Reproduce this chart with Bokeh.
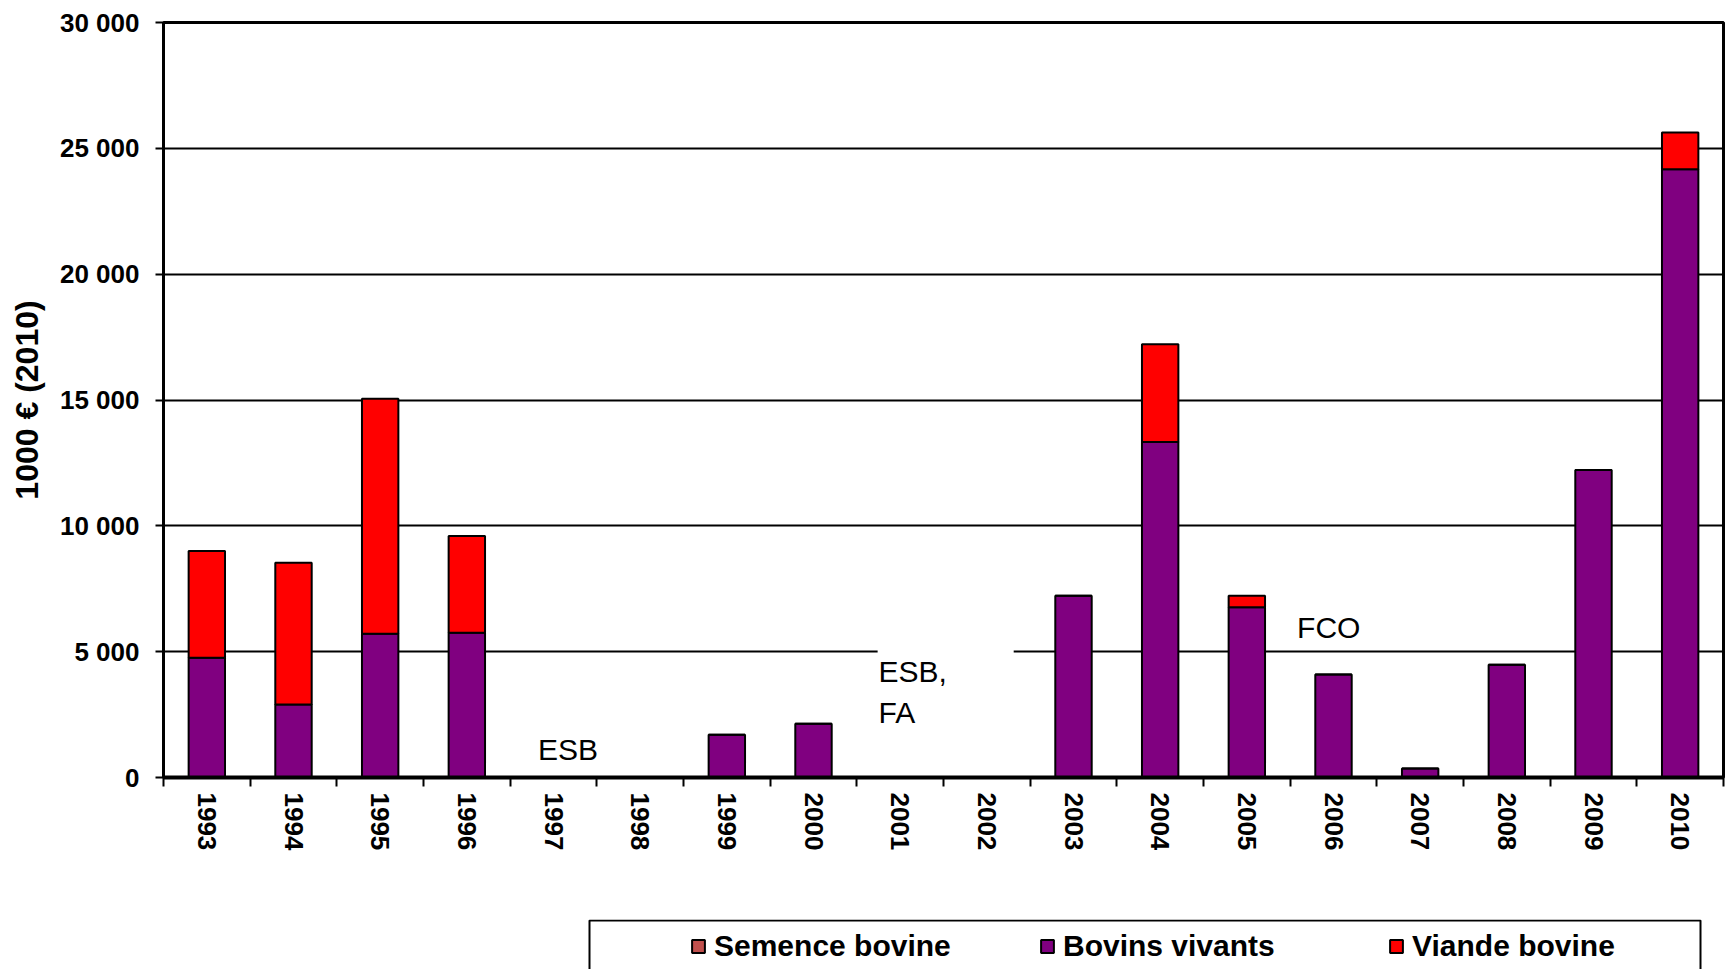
from bokeh.plotting import figure
from bokeh.models import (FixedTicker, Legend, LegendItem, Label, BoxAnnotation,
                          Range1d, ColumnDataSource)
from bokeh.layouts import column
from bokeh.embed import file_html
from bokeh.resources import INLINE

# ---- data -------------------------------------------------------------
years = ["1993", "1994", "1995", "1996", "1997", "1998", "1999", "2000", "2001",
         "2002", "2003", "2004", "2005", "2006", "2007", "2008", "2009", "2010"]
semence_bovine = [0, 0, 0, 0, 0, 0, 0, 0, 0, 0, 0, 0, 0, 0, 0, 0, 0, 0]
bovins_vivants = [4760, 2900, 5710, 5750, 0, 0, 1700, 2140, 0, 0,
                  7220, 13330, 6760, 4090, 360, 4480, 12220, 24170]
viande_bovine = [4240, 5630, 9340, 3850, 0, 0, 0, 0, 0, 0,
                 0, 3890, 460, 0, 0, 0, 0, 1460]
series_names = ["Semence bovine", "Bovins vivants", "Viande bovine"]
series_colors = ["#C0504D", "#800080", "#FF0000"]

y_ticks = [0, 5000, 10000, 15000, 20000, 25000, 30000]
y_tick_labels = ["0", "5 000", "10 000", "15 000", "20 000", "25 000", "30 000"]

# event annotations: (text, position along the year axis, value)
annotations = [("ESB", 4.32, 1100), ("FCO", 13.08, 5950)]
esb_fa_text = "ESB,\nFA"
esb_fa_pos = (8.25, 4880)

FONT = "Liberation Sans"
BORDER_L, BORDER_R = 163, 9

# ---- main figure ------------------------------------------------------
xs = [i + 0.5 for i in range(len(years))]
src = ColumnDataSource(dict(x=xs, years=years, s=semence_bovine,
                            b=bovins_vivants, v=viande_bovine))

p = figure(width=1732, height=919, output_backend="svg", toolbar_location=None,
           x_range=Range1d(0, len(years)), y_range=Range1d(0, 30000),
           min_border_left=BORDER_L, min_border_top=22, min_border_right=BORDER_R,
           min_border_bottom=142)
p.background_fill_color = "white"
p.border_fill_color = "white"
p.outline_line_color = "black"
p.outline_line_width = 3

renderers = p.vbar_stack(["s", "b", "v"], x="x", width=0.42, source=src,
                         fill_color=series_colors, line_color="black",
                         line_width=2)

# y axis
p.yaxis.ticker = FixedTicker(ticks=y_ticks)
p.yaxis.major_label_overrides = {t: l for t, l in zip(y_ticks, y_tick_labels)}
p.yaxis.axis_line_width = 3
p.yaxis.axis_line_color = "black"
p.yaxis.major_tick_out = 8
p.yaxis.major_tick_in = 0
p.yaxis.major_tick_line_width = 2
p.yaxis.major_tick_line_color = "black"
p.yaxis.minor_tick_line_color = None
p.yaxis.major_label_text_font = FONT
p.yaxis.major_label_text_font_size = "26px"
p.yaxis.major_label_text_font_style = "bold"
p.yaxis.major_label_text_color = "black"
p.yaxis.major_label_standoff = 16
p.yaxis.axis_label = "1000 € (2010)"
p.yaxis.axis_label_text_font = FONT
p.yaxis.axis_label_text_font_size = "32px"
p.yaxis.axis_label_text_font_style = "bold"
p.yaxis.axis_label_text_color = "black"
p.yaxis.axis_label_standoff = 12

# x axis: labels at category centres, tick marks at category boundaries
p.xaxis.ticker = FixedTicker(ticks=xs, minor_ticks=list(range(len(years) + 1)))
p.xaxis.major_label_overrides = {x: y for x, y in zip(xs, years)}
p.xaxis.major_label_orientation = "vertical"
p.xaxis.major_tick_line_color = None
p.xaxis.major_tick_out = 0
p.xaxis.major_tick_in = 0
p.xaxis.minor_tick_out = 9
p.xaxis.minor_tick_in = 0
p.xaxis.minor_tick_line_width = 2
p.xaxis.minor_tick_line_color = "black"
p.xaxis.axis_line_width = 4
p.xaxis.axis_line_color = "black"
p.xaxis.major_label_text_font = FONT
p.xaxis.major_label_text_font_size = "26px"
p.xaxis.major_label_text_font_style = "bold"
p.xaxis.major_label_text_color = "black"
p.xaxis.major_label_standoff = 6

# grid
p.xgrid.grid_line_color = None
p.ygrid.ticker = FixedTicker(ticks=y_ticks)
p.ygrid.grid_line_color = "black"
p.ygrid.grid_line_width = 2

# annotations
for txt, ax, ay in annotations:
    p.add_layout(Label(x=ax, y=ay, text=txt, text_font=FONT,
                       text_font_size="30px", text_color="black",
                       text_baseline="alphabetic", text_align="left"))

mask = BoxAnnotation(left=esb_fa_pos[0] - 0.01, right=esb_fa_pos[0] + 1.56,
                     bottom=1800, top=5400, fill_color="white", fill_alpha=1.0,
                     line_color=None)
p.add_layout(mask)
p.add_layout(Label(x=esb_fa_pos[0], y=esb_fa_pos[1], text=esb_fa_text,
                   text_font=FONT, text_font_size="30px", text_color="black",
                   text_baseline="top", text_align="left", text_line_height=1.25))

# ---- legend strip (box below the chart) --------------------------------
strip_w = 1732 - BORDER_L - BORDER_R
lf = figure(width=1732, height=50, output_backend="svg", toolbar_location=None,
            x_range=Range1d(0, strip_w), y_range=Range1d(0, 50),
            x_axis_location=None, y_axis_location=None,
            min_border_left=BORDER_L, min_border_right=BORDER_R,
            min_border_top=0, min_border_bottom=0)
lf.xgrid.grid_line_color = None
lf.ygrid.grid_line_color = None
lf.outline_line_color = None
lf.background_fill_color = "white"
lf.border_fill_color = "white"

# legend proxies (hidden under the legend box; they only lend their style)
proxies = [lf.vbar(x=[800], top=[20], bottom=[20], width=0, fill_color=c,
                   line_color="black", line_width=2) for c in series_colors]

lf.add_layout(BoxAnnotation(left=426, right=1537, bottom=-20, top=49,
                            fill_color="white", fill_alpha=1.0,
                            line_color="black", line_alpha=1.0, line_width=2))

legend = Legend(items=[LegendItem(label=n, renderers=[r])
                       for n, r in zip(series_names, proxies)],
                orientation="horizontal", location=(527, 6),
                border_line_color=None, background_fill_alpha=0.0,
                glyph_width=16, glyph_height=16, label_standoff=8,
                label_width=280, spacing=45, padding=0, margin=0,
                label_text_font=FONT, label_text_font_size="30px",
                label_text_font_style="bold", label_text_color="black")
lf.add_layout(legend)

layout = column(p, lf, spacing=0)
open("out.html", "w").write(file_html(layout, INLINE))
